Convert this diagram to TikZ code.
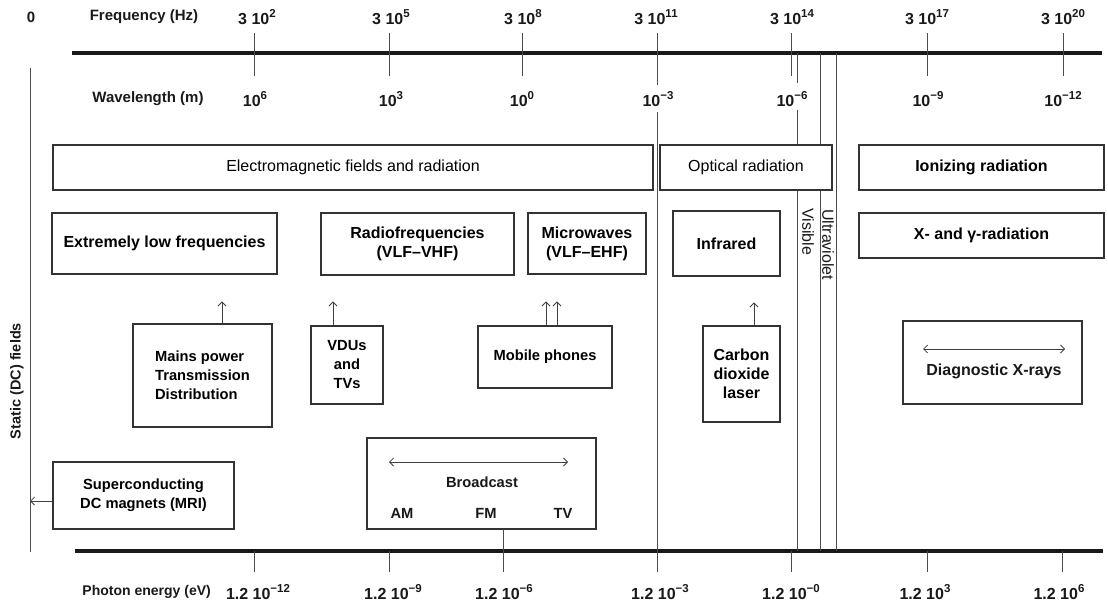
\documentclass[tikz,border=0pt]{standalone}
\usepackage{fontspec}
\setmainfont{Liberation Sans}
\usetikzlibrary{arrows.meta}
\newcommand\myfbig{\bfseries\fontsize{16}{19}\selectfont}
\newcommand\myfmed{\bfseries\fontsize{14.7}{19}\selectfont}
\newcommand\myfreg{\fontsize{16}{19}\selectfont}
\newcommand\myflab{\bfseries\fontsize{15}{18}\selectfont}
\newcommand\myfnum{\bfseries\fontsize{16}{18}\selectfont}
\newcommand\mysup[1]{\raisebox{0.42em}{\fontsize{11.5}{12}\selectfont #1}}
\begin{document}
\begin{tikzpicture}[x=1pt,y=-1pt,
  box/.style={draw=black!80,line width=1.1pt,fill=white,inner sep=0pt,align=center},
  axis/.style={line width=4pt,draw=black!90},
  thin/.style={line width=0.8pt,draw=black!70},
  arr/.style={-{Straight Barb[length=4pt,width=8pt]},line width=0.8pt,draw=black!75},
  darr/.style={{Straight Barb[length=4pt,width=8pt]}-{Straight Barb[length=4pt,width=8pt]},line width=0.8pt,draw=black!75},
  lab/.style={inner sep=0pt,font=\myflab,text=black!90},
  num/.style={inner sep=0pt,font=\myfnum,text=black!90},
  txt/.style={inner sep=0pt,align=center,text=black!90}]
\useasboundingbox (0,0) rectangle (1108,605);

% axes
\coordinate (ta) at (72,53);  \coordinate (tb) at (1102,53);
\coordinate (ba) at (75,551); \coordinate (bb) at (1103,551);
\draw[axis] (ta) -- (tb);
\draw[axis] (ba) -- (bb);
\coordinate (lt) at (30,68); \coordinate (lb) at (30,552);
\draw[thin] (lt) -- (lb);

% top ticks
\foreach \x in {254,389,522,791,927,1063} \draw[thin] (\x,33) -- (\x,76);
% bottom ticks
\foreach \x in {254,389,791,927,1062} \draw[thin] (\x,551) -- (\x,572);

% long vertical lines
\draw[thin] (657,33) -- (657,85);
\draw[thin] (657,112) -- (657,572);
\draw[thin] (797,53) -- (797,83);
\draw[thin] (797,110) -- (797,551);
\draw[thin] (820,53) -- (820,551);
\draw[thin] (836,53) -- (836,551);

% top labels
\node[lab] (zero) at (31,17) {0};
\node[lab] (freq) at (144,17) {Frequency (Hz)};
\foreach \x/\e in {257/2,391/5,523/8,656/11,792/14,927/17,1063/20}
  \node[num] at (\x,17) {3 10\mysup{\e}};
\node[lab] (wave) at (148,99) {Wavelength (m)};
\foreach \x/\e in {255/6,391/3,522/0,658/−3,792/−6,928/−9,1063/−12}
  \node[num] at (\x,99) {10\mysup{\e}};

% bottom labels
\node[lab,anchor=east,font=\bfseries\fontsize{14}{17}\selectfont] (phot) at (211,592) {Photon energy (eV)};
\foreach \x/\e in {258/−12,393/−9,504/−6,660/−3,791/−0,925/3,1059/6}
  \node[num] at (\x,592) {1.2 10\mysup{\e}};

% side label
\node[lab,rotate=90,font=\bfseries\fontsize{14.5}{17}\selectfont] (stat) at (17,381) {Static (DC) fields};

% category boxes
\node[box,minimum width=600pt,minimum height=45pt,font=\myfreg] (em) at (353,167.5) {Electromagnetic fields and radiation};
\node[box,minimum width=172pt,minimum height=45pt,font=\myfreg] (opt) at (746,167.5) {Optical radiation};
\node[box,minimum width=245pt,minimum height=45pt,font=\myfbig] (ion) at (981.5,167.5) {Ionizing radiation};

% band boxes
\node[box,minimum width=225pt,minimum height=61pt,font=\myfbig] (elf) at (164.5,243.5) {Extremely low frequencies};
\node[box,minimum width=193pt,minimum height=62pt,font=\myfbig] (rf) at (417.5,244) {Radiofrequencies\\(VLF–VHF)};
\node[box,minimum width=118pt,minimum height=61pt,font=\myfbig] (mw) at (587,243.5) {Microwaves\\(VLF–EHF)};
\node[box,minimum width=107pt,minimum height=65pt,font=\myfbig] (ir) at (726.5,243.5) {Infrared};
\node[box,minimum width=245pt,minimum height=45pt,font=\myfbig] (xg) at (981.5,235.5) {X- and γ-radiation};

\node[txt,rotate=-90,anchor=west,font=\myfreg] (vis) at (808,208) {Visible};
\node[txt,rotate=-90,anchor=west,font=\myfreg] (uv) at (828,209) {Ultraviolet};

% source boxes
\node[box,minimum width=139pt,minimum height=103pt,font=\myfmed,align=left] (mains) at (202.5,375.5) {Mains power\\Transmission\\Distribution};
\node[box,minimum width=72pt,minimum height=78pt,font=\myfmed] (vdu) at (347,365) {VDUs\\and\\TVs};
\node[box,minimum width=134pt,minimum height=62pt,font=\myfmed] (mob) at (545,357) {Mobile phones};
\node[box,minimum width=77pt,minimum height=96pt,font=\myfbig] (co2) at (741.5,374) {Carbon\\dioxide\\laser};
\node[box,minimum width=179pt,minimum height=83pt] (diag) at (992.5,362.5) {};
\node[box,minimum width=181pt,minimum height=67pt,font=\myfmed] (sup) at (143.5,495.5) {Superconducting\\DC magnets (MRI)};
\node[box,minimum width=229pt,minimum height=91pt] (brd) at (481.5,483.5) {};

% texts inside boxes
\node[txt,font=\myfbig] (diagt) at (994,371) {Diagnostic X-rays};
\node[txt,font=\myfmed] (brdt) at (482,482) {Broadcast};
\node[txt,font=\myfmed] (am) at (402,513) {AM};
\node[txt,font=\myfmed] (fm) at (486,513) {FM};
\node[txt,font=\myfmed] (tv) at (563,513) {TV};

% double arrows
\coordinate (da1) at (923,349); \coordinate (da2) at (1065,349);
\draw[darr] (da1) -- (da2);
\coordinate (ba1) at (389,462); \coordinate (ba2) at (568,462);
\draw[darr] (ba1) -- (ba2);

% up arrows
\draw[arr] ([xshift=19.5pt]mains.north) -- ++(0,-22);
\draw[arr] ([xshift=-14pt]vdu.north) -- ++(0,-24);
\draw[arr] ([xshift=1pt]mob.north) -- ++(0,-24);
\draw[arr] ([xshift=12pt]mob.north) -- ++(0,-24);
\draw[arr] ([xshift=12.5pt]co2.north) -- ++(0,-23);
% MRI arrow
\draw[arr] ([yshift=-5.5pt]sup.west) -- ([yshift=-5.5pt]sup.west -| lt);
% FM line
\coordinate (fmb) at (503,572);
\draw[thin] ([xshift=21.5pt]brd.south) -- (fmb);
\end{tikzpicture}
\end{document}
